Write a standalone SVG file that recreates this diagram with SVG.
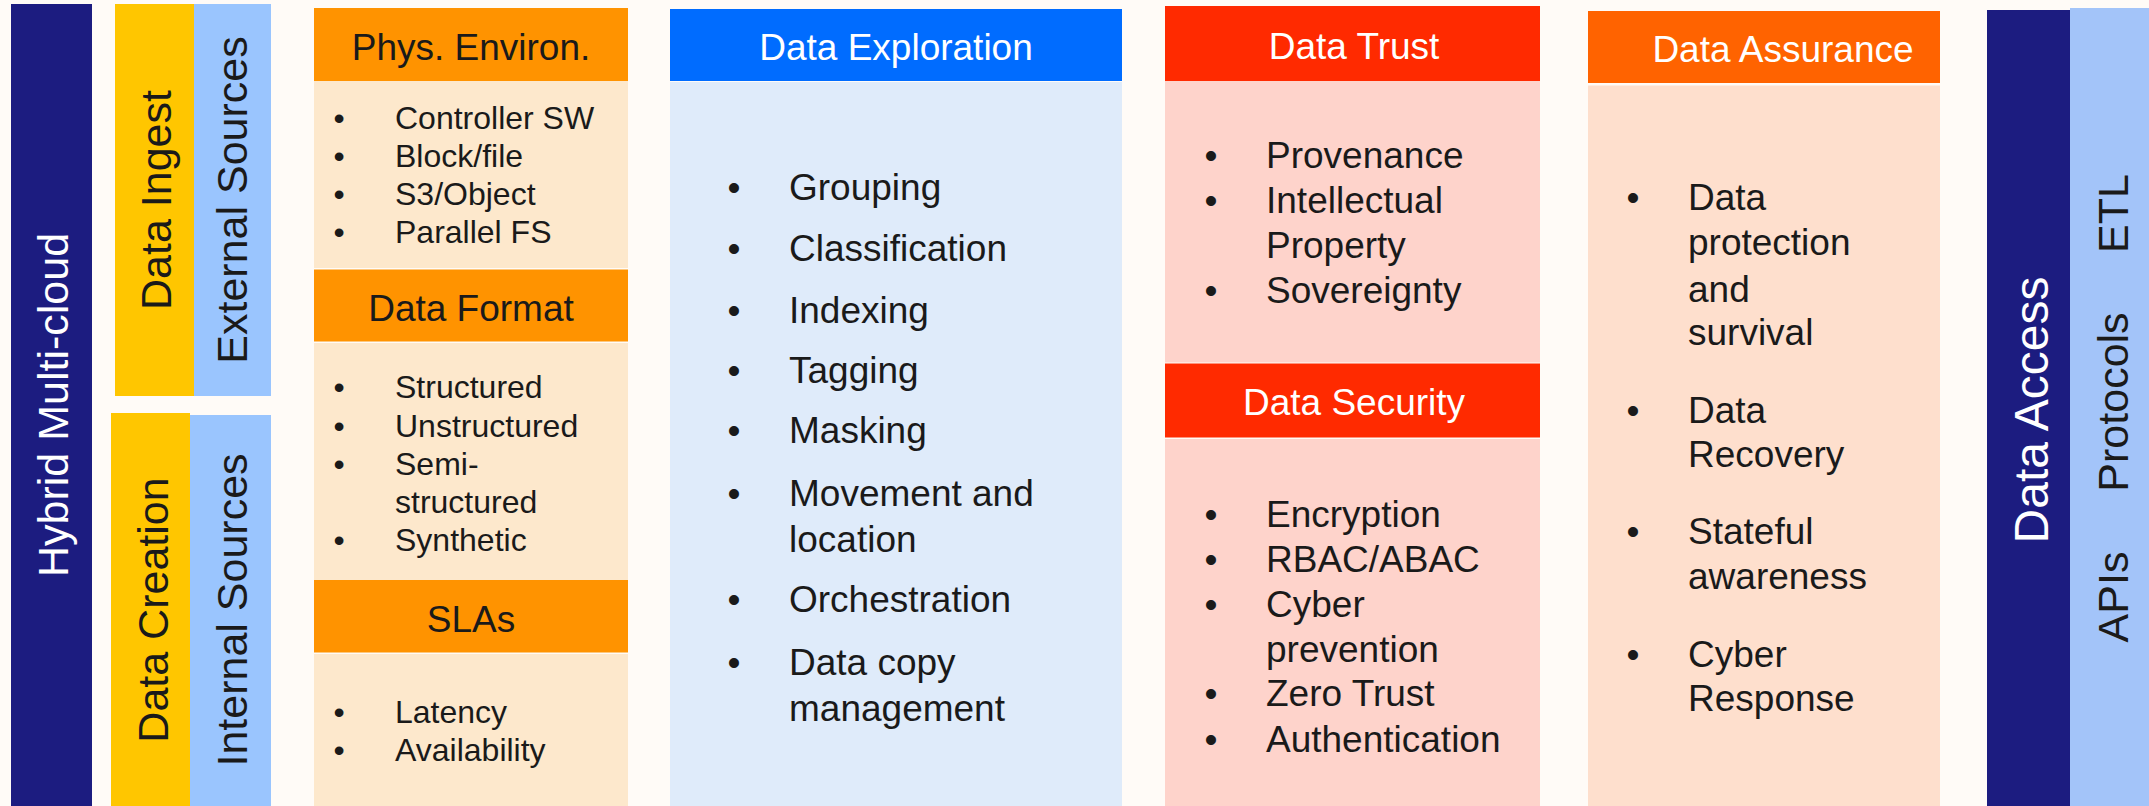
<svg xmlns="http://www.w3.org/2000/svg" width="2149" height="806" viewBox="0 0 2149 806">
<style>
text{font-family:"Liberation Sans",Arial,Helvetica,sans-serif;fill:#1a1a1a}
.w{fill:#ffffff}
.v{font-size:43px;text-anchor:middle}
.h{font-size:37px;text-anchor:middle}
.s{font-size:32px}
.m{font-size:37px}
.b{text-anchor:middle}
.navy{fill:#1c1c80}
.yel{fill:#ffc600}
.lb1{fill:#9ac5fe}
.lb2{fill:#a3c4f9}
.org{fill:#ff9300}
.peach{fill:#fde8cc}
.blue{fill:#006cff}
.lblue{fill:#dfebfa}
.red{fill:#ff2a00}
.pink{fill:#fed3cb}
.dorg{fill:#ff6300}
.apricot{fill:#fedfcd}
</style>
<rect x="0" y="0" width="2149" height="806" fill="#fffbf7"/>

<g id="hybrid-multicloud">
<rect class="navy" x="11" y="4" width="81" height="802"/>
<text class="v w" transform="translate(68,405) rotate(-90)">Hybrid Multi-cloud</text>
</g>

<g id="data-ingest">
<rect class="yel" x="115" y="4" width="79" height="392"/>
<text class="v" transform="translate(170.5,200) rotate(-90)">Data Ingest</text>
</g>
<g id="external-sources">
<rect class="lb1" x="194" y="4" width="77" height="392"/>
<text class="v" transform="translate(247,200) rotate(-90)">External Sources</text>
</g>
<g id="data-creation">
<rect class="yel" x="111" y="413" width="79" height="393"/>
<text class="v" transform="translate(168,610) rotate(-90)">Data Creation</text>
</g>
<g id="internal-sources">
<rect class="lb1" x="190" y="415" width="81" height="391"/>
<text class="v" transform="translate(247,610) rotate(-90)">Internal Sources</text>
</g>

<g id="phys-environ">
<rect class="org" x="314" y="8" width="314" height="73"/>
<text class="h" x="471" y="60">Phys. Environ.</text>
<rect class="peach" x="314" y="81" width="314" height="187"/>
<g class="s">
<text class="b" x="339" y="129">•</text><text x="395" y="129">Controller SW</text>
<text class="b" x="339" y="167">•</text><text x="395" y="167">Block/file</text>
<text class="b" x="339" y="205">•</text><text x="395" y="205">S3/Object</text>
<text class="b" x="339" y="243">•</text><text x="395" y="243">Parallel FS</text>
</g>
</g>
<g id="data-format">
<rect class="org" x="314" y="269.5" width="314" height="72"/>
<text class="h" x="471" y="321">Data Format</text>
<rect class="peach" x="314" y="343" width="314" height="237"/>
<g class="s">
<text class="b" x="339" y="398">•</text><text x="395" y="398">Structured</text>
<text class="b" x="339" y="437">•</text><text x="395" y="437">Unstructured</text>
<text class="b" x="339" y="475">•</text><text x="395" y="475">Semi-</text>
<text x="395" y="513">structured</text>
<text class="b" x="339" y="551">•</text><text x="395" y="551">Synthetic</text>
</g>
</g>
<g id="slas">
<rect class="org" x="314" y="580" width="314" height="72.5"/>
<text class="h" x="471" y="632">SLAs</text>
<rect class="peach" x="314" y="654" width="314" height="152"/>
<g class="s">
<text class="b" x="339" y="723">•</text><text x="395" y="723">Latency</text>
<text class="b" x="339" y="761">•</text><text x="395" y="761">Availability</text>
</g>
</g>

<g id="data-exploration">
<rect class="blue" x="670" y="9" width="452" height="72"/>
<text class="h w" x="896" y="60">Data Exploration</text>
<rect class="lblue" x="670" y="82" width="452" height="724"/>
<g class="m">
<text class="b" x="734" y="200">•</text><text x="789" y="200">Grouping</text>
<text class="b" x="734" y="261">•</text><text x="789" y="261">Classification</text>
<text class="b" x="734" y="322.5">•</text><text x="789" y="322.5">Indexing</text>
<text class="b" x="734" y="383">•</text><text x="789" y="383">Tagging</text>
<text class="b" x="734" y="443">•</text><text x="789" y="443">Masking</text>
<text class="b" x="734" y="506">•</text><text x="789" y="506">Movement and</text>
<text x="789" y="551.5">location</text>
<text class="b" x="734" y="612">•</text><text x="789" y="612">Orchestration</text>
<text class="b" x="734" y="675">•</text><text x="789" y="675">Data copy</text>
<text x="789" y="720.5">management</text>
</g>
</g>

<g id="data-trust">
<rect class="red" x="1165" y="6" width="375" height="75"/>
<text class="h w" x="1354" y="59">Data Trust</text>
<rect class="pink" x="1165" y="81" width="375" height="281.5"/>
<g class="m">
<text class="b" x="1211" y="168">•</text><text x="1266" y="168">Provenance</text>
<text class="b" x="1211" y="212.5">•</text><text x="1266" y="212.5">Intellectual</text>
<text x="1266" y="258">Property</text>
<text class="b" x="1211" y="303">•</text><text x="1266" y="303">Sovereignty</text>
</g>
</g>
<g id="data-security">
<rect class="red" x="1165" y="363.5" width="375" height="74"/>
<text class="h w" x="1354" y="415">Data Security</text>
<rect class="pink" x="1165" y="439" width="375" height="367"/>
<g class="m">
<text class="b" x="1211" y="526.5">•</text><text x="1266" y="526.5">Encryption</text>
<text class="b" x="1211" y="571.5">•</text><text x="1266" y="571.5">RBAC/ABAC</text>
<text class="b" x="1211" y="617">•</text><text x="1266" y="617">Cyber</text>
<text x="1266" y="662">prevention</text>
<text class="b" x="1211" y="705.5">•</text><text x="1266" y="705.5">Zero Trust</text>
<text class="b" x="1211" y="751.5">•</text><text x="1266" y="751.5">Authentication</text>
</g>
</g>

<g id="data-assurance">
<rect class="dorg" x="1588" y="11" width="352" height="72"/>
<text class="h w" x="1783" y="61.5">Data Assurance</text>
<rect class="apricot" x="1588" y="85.5" width="352" height="720.5"/>
<g class="m">
<text class="b" x="1633" y="210">•</text><text x="1688" y="210">Data</text>
<text x="1688" y="255">protection</text>
<text x="1688" y="301.5">and</text>
<text x="1688" y="345">survival</text>
<text class="b" x="1633" y="423">•</text><text x="1688" y="423">Data</text>
<text x="1688" y="466.5">Recovery</text>
<text class="b" x="1633" y="544">•</text><text x="1688" y="544">Stateful</text>
<text x="1688" y="589">awareness</text>
<text class="b" x="1633" y="666.5">•</text><text x="1688" y="666.5">Cyber</text>
<text x="1688" y="710.5">Response</text>
</g>
</g>

<g id="data-access">
<rect class="navy" x="1987" y="10" width="83" height="796"/>
<text class="v w" style="font-size:48px" transform="translate(2048,410) rotate(-90)">Data Access</text>
</g>
<g id="access-methods">
<rect class="lb2" x="2070" y="8" width="79" height="798"/>
<text class="v" transform="translate(2128,213.5) rotate(-90)">ETL</text>
<text class="v" transform="translate(2128,402) rotate(-90)">Protocols</text>
<text class="v" transform="translate(2128,597) rotate(-90)">APIs</text>
</g>

<g id="connectors"></g>
</svg>
